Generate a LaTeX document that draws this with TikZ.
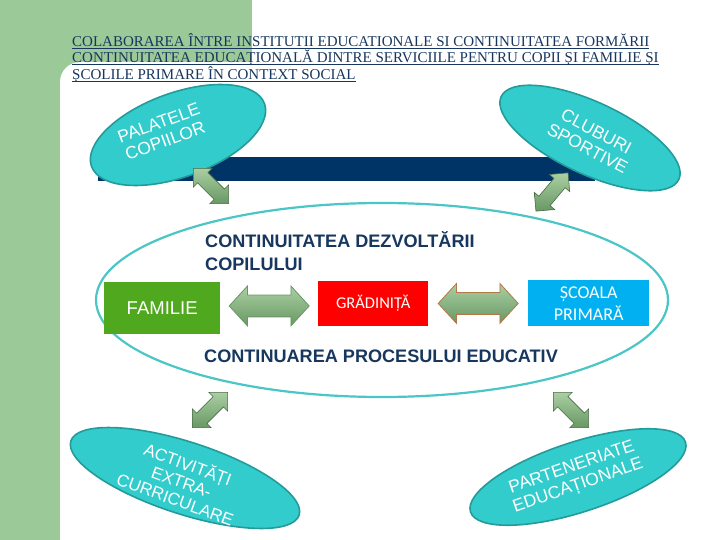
\documentclass[tikz,border=0pt]{standalone}
\usepackage{fontspec}
\setmainfont{Liberation Sans}
\newfontfamily\titlefont{Liberation Serif}
\newfontfamily\calfont{Carlito}
\usetikzlibrary{positioning,calc,shapes.geometric,shapes.arrows}
\definecolor{bggreen}{RGB}{155,202,152}
\definecolor{navy}{RGB}{23,55,94}
\definecolor{barblue}{RGB}{0,51,102}
\definecolor{tealfill}{RGB}{51,204,204}
\definecolor{tealline}{RGB}{36,155,155}
\definecolor{ringc}{RGB}{75,198,198}
\definecolor{cfam}{RGB}{80,168,30}
\definecolor{cgrad}{RGB}{255,0,0}
\definecolor{cscoala}{RGB}{0,176,240}
\definecolor{arrlight}{RGB}{170,207,162}
\definecolor{arrdark}{RGB}{104,152,100}
\definecolor{arrbrown}{RGB}{180,120,70}
\newcommand{\tline}[1]{\setbox0\hbox{#1}\rlap{\rule[-2.4pt]{\wd0}{0.8pt}}\box0}
\tikzset{
  bubble/.style={ellipse, fill=tealfill, draw=tealline, line width=1.6pt, inner sep=0pt},
  bubtxt/.style={text=white, font=\fontsize{17.5}{19}\selectfont, align=center, inner sep=0pt},
  ring/.style={ellipse, draw=ringc, line width=2.2pt, inner sep=0pt},
  box/.style={anchor=north west, text=white, align=center, inner sep=0pt},
  hdg/.style={anchor=north west, text=navy, font=\fontsize{18.1}{23}\selectfont\bfseries, align=left, inner sep=0pt},
  blockarr/.style={double arrow, inner xsep=0pt, inner ysep=10.5pt, double arrow head extend=9pt,
      double arrow tip angle=95, minimum height=80pt, top color=arrlight, bottom color=arrdark, line width=0.8pt},
  diagarr/.style={double arrow, inner xsep=0pt, inner ysep=7pt, double arrow head extend=6pt,
      minimum height=50pt, top color=arrlight, bottom color=arrdark, draw=arrdark!70!black, line width=0.6pt},
}

\begin{document}
\begin{tikzpicture}[x=1pt,y=-1pt]
\useasboundingbox (0,0) rectangle (720,540);
\clip (0,0) rectangle (720,540);
\fill[bggreen] (0,0) rectangle (252,100);
\fill[bggreen] (0,0) rectangle (60,540);
\fill[white, rounded corners=20pt] (60,62) rectangle (760,600);
\node[anchor=north west, align=left, inner sep=0pt, text=navy,
  font=\titlefont\fontsize{15}{15}\selectfont] (title) at (72,33)
  {\tline{COLABORAREA ÎNTRE INSTITUTII EDUCATIONALE SI CONTINUITATEA FORMĂRII}\\
   \tline{CONTINUITATEA EDUCAȚIONALĂ DINTRE SERVICIILE PENTRU COPII ȘI FAMILIE ȘI}\\
   \tline{ȘCOLILE PRIMARE ÎN CONTEXT SOCIAL}};
\fill[barblue] (98,157) rectangle (595,181);
\node[bubble, minimum width=184pt, minimum height=84pt, rotate=20] (pal) at (178,135) {};
\node[bubtxt, rotate=20] (pal-t) at (162,132) {PALATELE\\COPIILOR};
\node[bubble, minimum width=196pt, minimum height=72pt, rotate=-25] (club) at (590,138) {};
\node[bubtxt, rotate=-28] (club-t) at (592,140) {CLUBURI\\SPORTIVE};
\node[ring, minimum width=572pt, minimum height=194pt] (ring) at (382,300) {};
\node[hdg] (dezv) at (205,231) {CONTINUITATEA DEZVOLTĂRII\\COPILULUI};
\node[hdg] (proc) at (204,350) {CONTINUAREA PROCESULUI EDUCATIV};
\node[box, fill=cfam, minimum width=116pt, minimum height=52pt,
  font=\fontsize{18.5}{20}\selectfont] (fam) at (104,282) {FAMILIE};
\node[box, fill=cgrad, minimum width=110pt, minimum height=45pt,
  font=\calfont\fontsize{16.5}{20}\selectfont] (grad) at (318,281) {GRĂDINIȚĂ};
\node[box, fill=cscoala, minimum width=121pt, minimum height=46pt,
  font=\calfont\fontsize{18}{22}\selectfont] (scoala) at (528,280) {ȘCOALA\\PRIMARĂ};
\node[blockarr, draw=arrdark] (fam-grad) at ($(fam.east)!0.5!(grad.west)$) {};
\node[blockarr, draw=arrbrown] (grad-scoala) at ($(grad.east)!0.5!(scoala.west)$) {};
\node[bubble, minimum width=240pt, minimum height=72pt, rotate=-18] (act) at (185,478) {};
\node[bubtxt, rotate=-20, font=\fontsize{17}{18.5}\selectfont] (act-t) at (182,481) {ACTIVITĂȚI\\EXTRA-\\CURRICULARE};
\node[bubble, minimum width=226pt, minimum height=70pt, rotate=18] (part) at (578,477) {};
\node[bubtxt, rotate=19] (part-t) at (575,477) {PARTENERIATE\\EDUCAȚIONALE};
\node[diagarr, rotate=-45] (pal-ring) at (211,186) {};
\node[diagarr, rotate=50] (club-ring) at (552,192) {};
\node[diagarr, rotate=45] (act-ring) at (210,410) {};
\node[diagarr, rotate=-45] (part-ring) at (571,410) {};
\end{tikzpicture}
\end{document}
